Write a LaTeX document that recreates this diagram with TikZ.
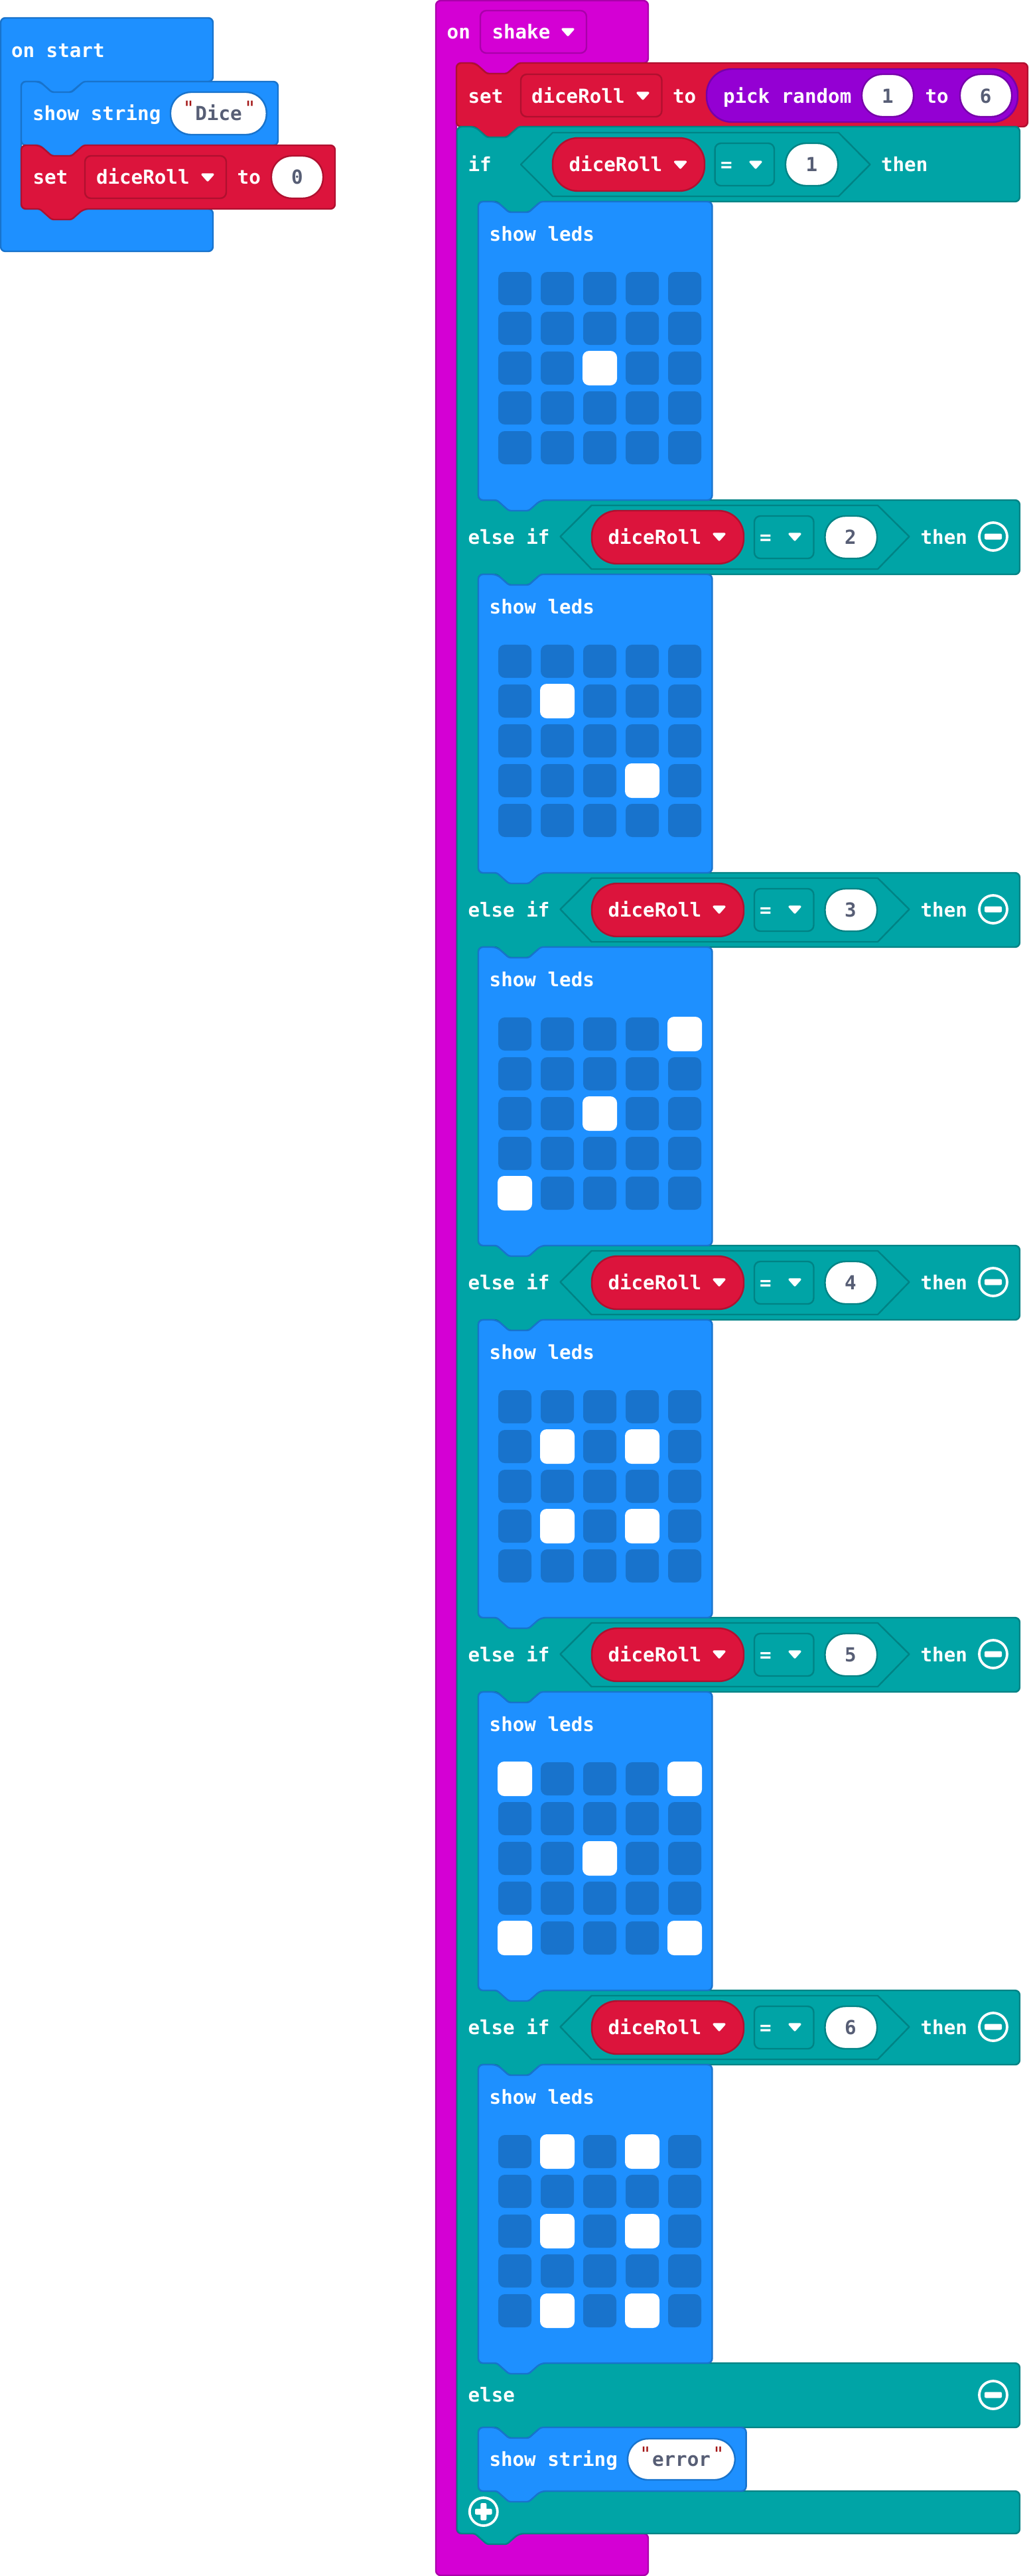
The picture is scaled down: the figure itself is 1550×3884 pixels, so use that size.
\documentclass[tikz,border=0pt]{standalone}
\usepackage{fontspec}
\setmainfont{DejaVu Sans Mono}
\newfontfamily\quotefont{DejaVu Sans Mono}
\definecolor{bl}{HTML}{1E90FF}\definecolor{bld}{HTML}{1873CC}
\definecolor{rd}{HTML}{DC143C}\definecolor{rdd}{HTML}{B0102F}
\definecolor{tl}{HTML}{00A4A6}\definecolor{tld}{HTML}{008385}
\definecolor{pu}{HTML}{D400D4}\definecolor{pud}{HTML}{AA00AA}
\definecolor{vi}{HTML}{9400D3}\definecolor{vid}{HTML}{7600A9}
\definecolor{txtgr}{HTML}{575E75}\definecolor{qt}{HTML}{A31515}
\newcounter{tn}
\tikzset{
 blk/.style={line width=2.4pt,line join=round,rounded corners=7pt},
 blue block/.style={blk,fill=bl,draw=bld},
 red block/.style={blk,fill=rd,draw=rdd},
 teal block/.style={blk,fill=tl,draw=tld},
 magenta block/.style={blk,fill=pu,draw=pud},
 lbl/.style={inner sep=0pt,outer sep=0pt,font=\fontsize{29.2}{32}\selectfont\bfseries,text=white},
 quote mark/.style={inner sep=0pt,outer sep=0pt,font=\fontsize{29.2}{32}\quotefont,text=qt},
 hexa/.style={line width=2.4pt,line join=round,fill=tl,draw=tld},
 ledoff/.style={fill=bld,rounded corners=10pt},
 ledon/.style={fill=white,rounded corners=10pt},
 circ/.style={draw=white,line width=3.8pt},
 nr/.style={rounded corners=3pt},
 br/.style={rounded corners=7pt},
}
% text: x, baseline, text
\newcommand{\T}[3]{\stepcounter{tn}\node[lbl,anchor=base west] (t\arabic{tn}) at (#1,#2) {#3};}
\newcommand{\N}[3]{\stepcounter{tn}\node[lbl,anchor=base,text=txtgr] (t\arabic{tn}) at (#1,#2) {#3};}
\newcommand{\Q}[2]{\stepcounter{tn}\node[quote mark,anchor=base] (t\arabic{tn}) at (#1,#2) {"};}
% stacked block x0 y0 x1 y1 style
\newcommand{\stackblk}[5]{\path[#5] (#1,#2) -- ({#1+28},#2) [nr] -- ({#1+46},{#2+16}) -- ({#1+76},{#2+16}) -- ({#1+94},#2) [br] -- (#3,#2) -- (#3,#4) -- ({#1+94},#4) [nr] -- ({#1+76},{#4+16}) -- ({#1+46},{#4+16}) -- ({#1+28},#4) [br] -- (#1,#4) -- cycle;}
% pill x0 y0 x1 y1 fill draw radius
\newcommand{\pill}[7]{\path[fill=#5,draw=#6,line width=2.4pt,rounded corners=#7pt] (#1,#2) rectangle (#3,#4);}
\newcommand{\ddarrow}[2]{\path[fill=white,draw=white,line width=3.2pt,line join=round] ({#1+2},{#2-4}) -- ({#1+18},{#2-4}) -- ({#1+10},{#2+5}) -- cycle;}
\newcommand{\minusb}[2]{\draw[circ] (#1,#2) circle (21); \path[fill=white,rounded corners=2pt] ({#1-13},{#2-4.5}) rectangle ({#1+13},{#2+4.5});}
% else-if row: top y, number
\newcommand{\elseifrow}[2]{%
 \T{705.5}{#1+66}{else if}
 \path[hexa] (844.5,{#1+55}) -- (891.6,{#1+8}) -- (1323,{#1+8}) -- (1370.5,{#1+55}) -- (1323,{#1+104}) -- (891.6,{#1+104}) -- cycle;
 \pill{892}{#1+16}{1121}{#1+96}{rd}{rdd}{38}
 \T{916.5}{#1+66}{diceRoll}
 \ddarrow{1074}{#1+55}
 \pill{1137}{#1+24}{1226.5}{#1+88}{tl}{tld}{9}
 \T{1145}{#1+66}{=}
 \ddarrow{1188}{#1+55}
 \pill{1243.5}{#1+24}{1322}{#1+88}{white}{tld}{31}
 \N{1282}{#1+66}{#2}
 \T{1387.6}{#1+66}{then}
 \minusb{1497}{#1+55}
}
% LED grid: block top, list of lit r/c
\newcommand{\leds}[2]{%
 \foreach \r in {0,...,4}{\foreach \c in {0,...,4}{
  \path[ledoff] ({751+64*\c},{#1+106+60*\r}) rectangle ({801+64*\c},{#1+156+60*\r});}}
 \foreach \r/\c in {#2}{
  \path[ledon] ({750+64*\c},{#1+105+60*\r}) rectangle ({802+64*\c},{#1+157+60*\r});}
}
\newcommand{\ledblock}[3]{%
 \stackblk{721}{#1}{1073.5}{#2}{blue block}
 \T{737.7}{#1+59}{show leds}
 \leds{#1}{#3}
}
\begin{document}
\begin{tikzpicture}[x=1pt,y=-1pt]
\useasboundingbox (0,0) rectangle (1550,3884);
% ---- on start
\path[blue block] (1,27) -- (321,27) -- (321,123) -- (126,123) [nr] -- (107,139) -- (78,139) -- (60,123) [br] -- (32,123) -- (32,315) -- (321,315) -- (321,379) -- (1,379) -- cycle;
\T{17}{86}{on start}
\stackblk{32}{123}{419}{219}{blue block}
\T{49}{181.7}{show string}
\pill{257}{139}{401.7}{203}{white}{bld}{31}
\Q{284.5}{173}
\N{329.5}{181.7}{Dice}
\Q{377}{173}
\stackblk{32}{219}{505}{315}{red block}
\T{49.5}{277.5}{set}
\pill{128}{235}{341}{299}{rd}{rdd}{9}
\T{145}{277.5}{diceRoll}
\ddarrow{303}{267}
\T{357.7}{277.5}{to}
\pill{409}{235}{487}{299}{white}{rdd}{31}
\N{448}{277.5}{0}
% ---- on shake hat
\path[magenta block] (657,1) -- (977,1) -- (977,95) -- (782,95) [nr] -- (764,111) -- (734,111) -- (716,95) [br] -- (688,95) -- (688,3820) -- (977,3820) -- (977,3883) -- (657,3883) -- cycle;
\T{673.7}{58}{on}
\pill{724}{16}{884}{80}{pu}{pud}{9}
\T{741.5}{58}{shake}
\ddarrow{846}{48}
% ---- set diceRoll
\stackblk{688}{95}{1549}{191}{red block}
\T{705.6}{155}{set}
\pill{785}{112}{997.5}{176}{rd}{rdd}{9}
\T{801}{155}{diceRoll}
\ddarrow{959}{144}
\T{1014}{155}{to}
\pill{1065}{104}{1534}{184}{vi}{vid}{38}
\T{1090}{155}{pick random}
\pill{1299}{112}{1377}{176}{white}{vid}{31}
\N{1338}{155}{1}
\T{1394.5}{155}{to}
\pill{1447}{112}{1525}{176}{white}{vid}{31}
\N{1485.6}{155}{6}
% ---- teal if-else C block
\path[teal block] (689,191) -- (716,191) [nr] -- (734,207) -- (764,207) -- (782,191) [br] -- (1537,191)
 -- (1537,304) -- (815,304) [nr] -- (797,320) -- (767,320) -- (749,304) [br] -- (721,304) -- (721,754)
 -- (1537,754) -- (1537,866) -- (815,866) [nr] -- (797,882) -- (767,882) -- (749,866) [br] -- (721,866) -- (721,1316)
 -- (1537,1316) -- (1537,1428) -- (815,1428) [nr] -- (797,1444) -- (767,1444) -- (749,1428) [br] -- (721,1428) -- (721,1878)
 -- (1537,1878) -- (1537,1990) -- (815,1990) [nr] -- (797,2006) -- (767,2006) -- (749,1990) [br] -- (721,1990) -- (721,2439)
 -- (1537,2439) -- (1537,2551) -- (815,2551) [nr] -- (797,2567) -- (767,2567) -- (749,2551) [br] -- (721,2551) -- (721,3001)
 -- (1537,3001) -- (1537,3113) -- (815,3113) [nr] -- (797,3129) -- (767,3129) -- (749,3113) [br] -- (721,3113) -- (721,3563)
 -- (1537,3563) -- (1537,3660) -- (815,3660) [nr] -- (797,3676) -- (767,3676) -- (749,3660) [br] -- (721,3660) -- (721,3756)
 -- (1537,3756) -- (1537,3820) -- (782,3820) [nr] -- (764,3836) -- (734,3836) -- (716,3820) [br] -- (689,3820) -- cycle;
% if row
\T{705.6}{258.5}{if}
\path[hexa] (785,248) -- (833,200) -- (1264,200) -- (1311.5,248) -- (1264,296) -- (833,296) -- cycle;
\pill{833}{208}{1062}{288}{rd}{rdd}{38}
\T{857.6}{258.5}{diceRoll}
\ddarrow{1015.5}{248}
\pill{1077.6}{216}{1167}{280}{tl}{tld}{9}
\T{1086}{258.5}{=}
\ddarrow{1129}{248}
\pill{1184}{216}{1263}{280}{white}{tld}{31}
\N{1223.3}{258.5}{1}
\T{1328}{258.5}{then}
% blocks
\ledblock{304}{754}{2/2}
\elseifrow{754}{2}
\ledblock{866}{1316}{1/1,3/3}
\elseifrow{1316}{3}
\ledblock{1428}{1878}{0/4,2/2,4/0}
\elseifrow{1878}{4}
\ledblock{1990}{2439}{1/1,1/3,3/1,3/3}
\elseifrow{2439}{5}
\ledblock{2551}{3001}{0/0,0/4,2/2,4/0,4/4}
\elseifrow{3001}{6}
\ledblock{3113}{3563}{0/1,0/3,2/1,2/3,4/1,4/3}
% else row
\T{705.6}{3621}{else}
\minusb{1497}{3611}
\stackblk{721}{3660}{1124.6}{3756}{blue block}
\T{737.5}{3718.5}{show string}
\pill{946}{3677}{1107.8}{3739}{white}{bld}{31}
\Q{973}{3710}
\N{1027}{3718.5}{error}
\Q{1083}{3710}
% plus
\draw[circ] (728.8,3787) circle (21);
\path[fill=white,rounded corners=2pt] (716,3782.5) rectangle (741.6,3791.5);
\path[fill=white,rounded corners=2pt] (724.3,3774) rectangle (733.3,3800);
\end{tikzpicture}
\end{document}
